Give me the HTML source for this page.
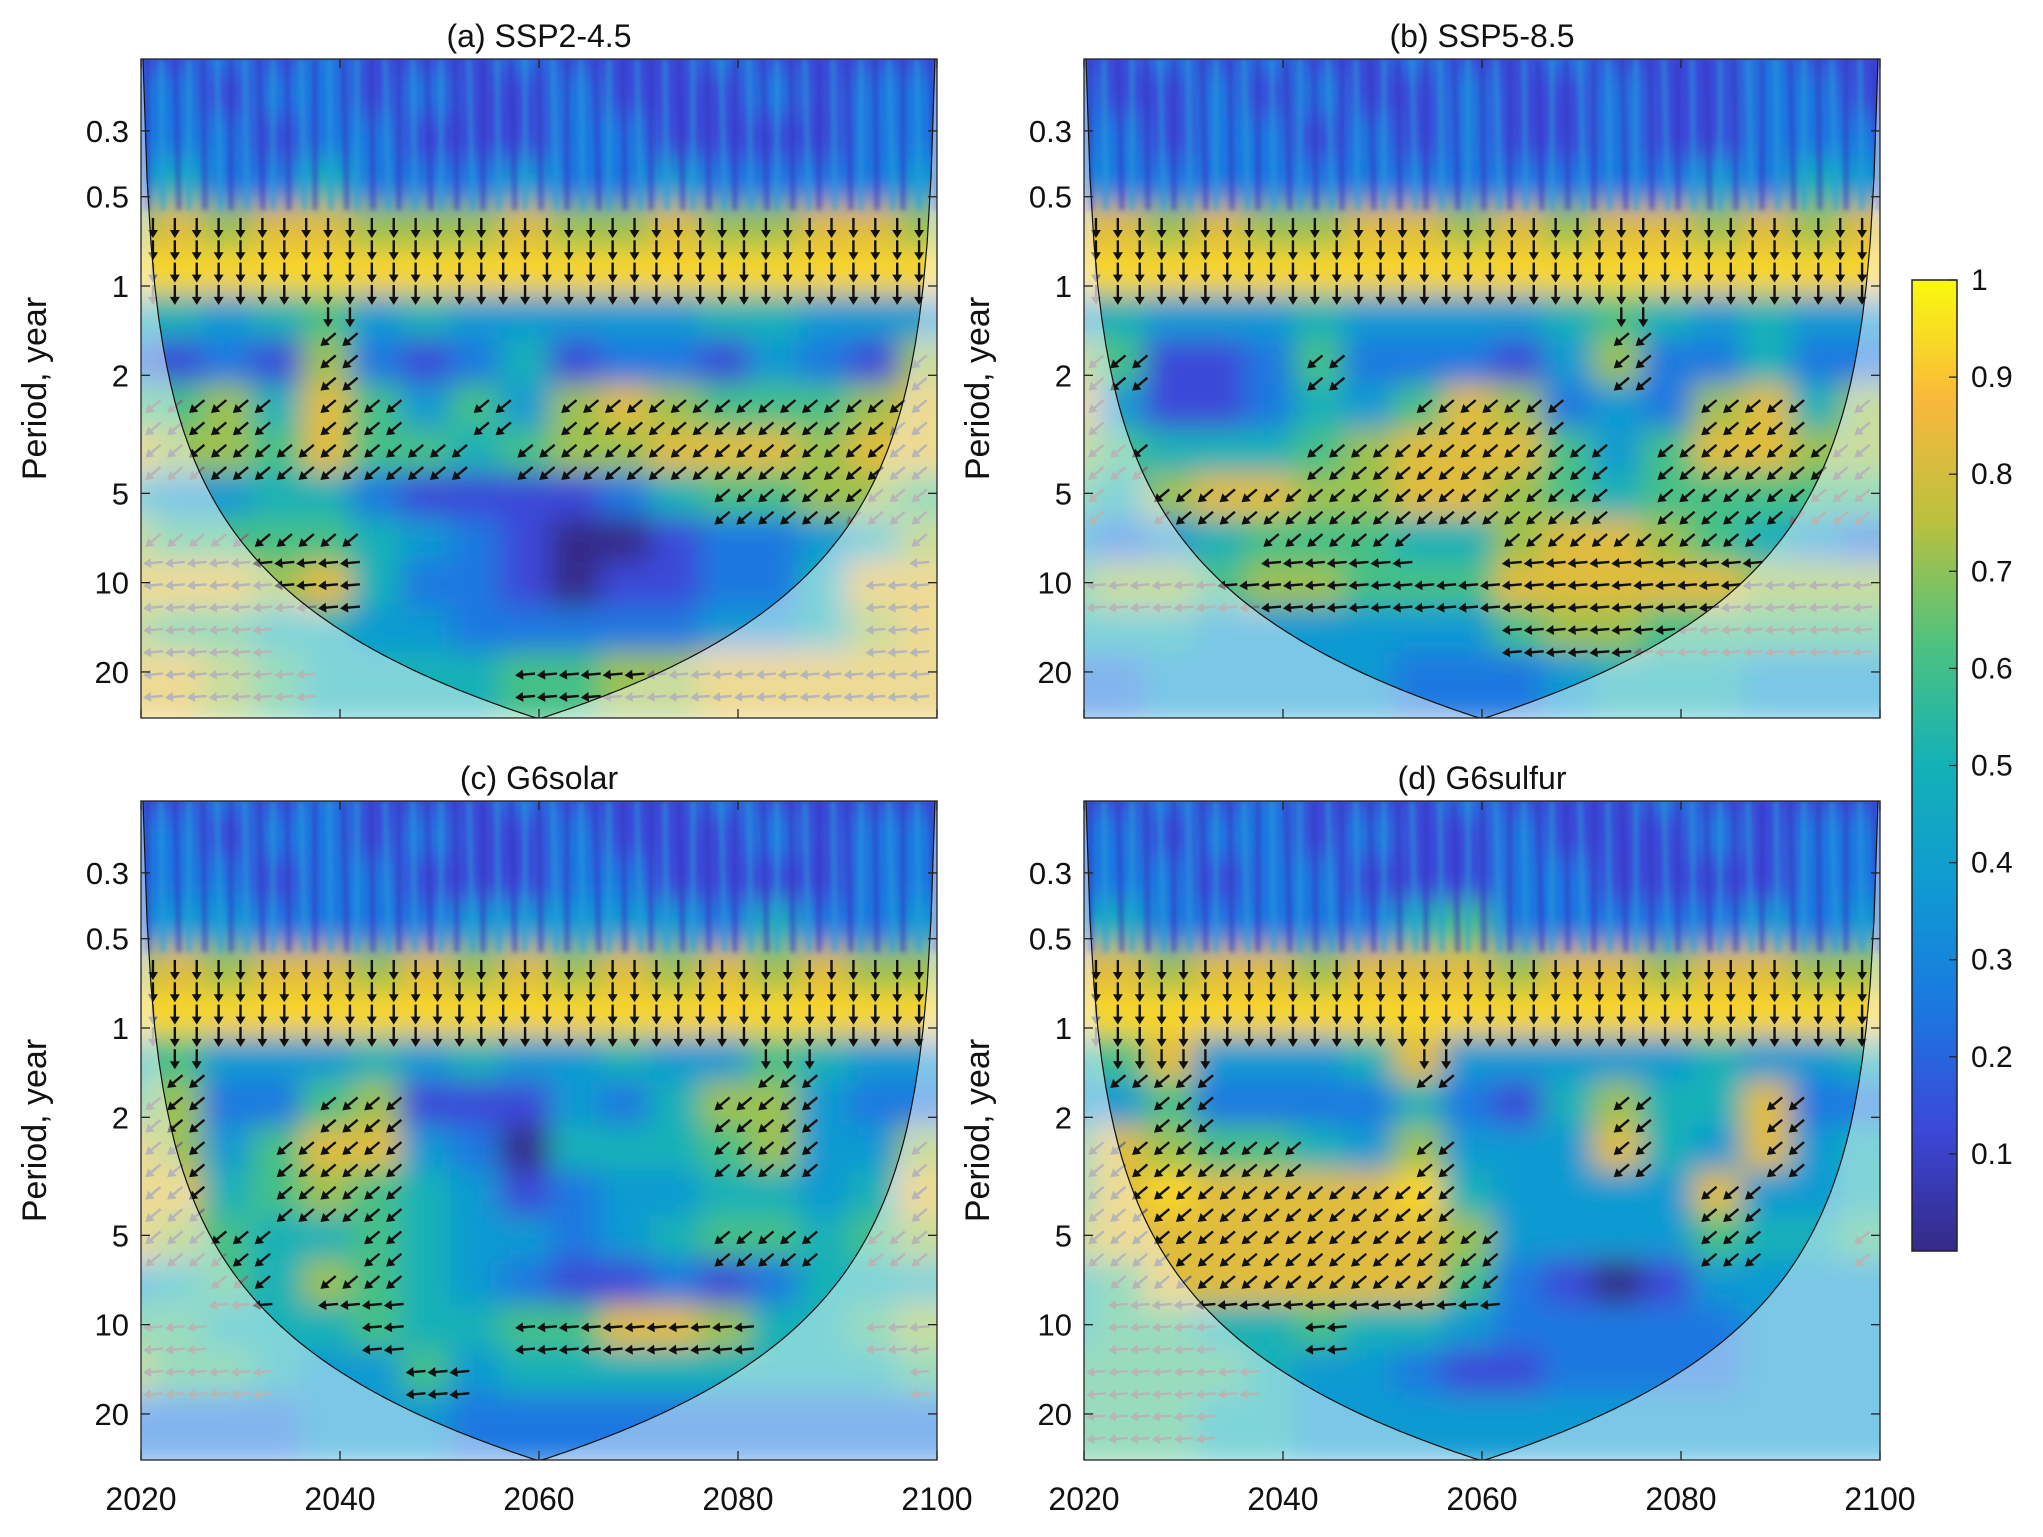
<!DOCTYPE html>
<html><head><meta charset="utf-8"><style>
html,body{margin:0;padding:0;background:#fff;}
svg text{font-family:"Liberation Sans",Arial,sans-serif;fill:#111;}
</style></head><body>
<svg id="chart" width="2043" height="1532" viewBox="0 0 2043 1532" xmlns="http://www.w3.org/2000/svg">
<defs>
<linearGradient id="parula" x1="0" y1="1" x2="0" y2="0">
<stop offset="0" stop-color="#352a87"/><stop offset="0.125" stop-color="#3b48d8"/>
<stop offset="0.25" stop-color="#1a78e0"/><stop offset="0.375" stop-color="#0f9ad2"/>
<stop offset="0.5" stop-color="#13b1b7"/><stop offset="0.625" stop-color="#4dc27f"/>
<stop offset="0.75" stop-color="#b9c13f"/><stop offset="0.875" stop-color="#f9b83c"/>
<stop offset="1" stop-color="#f9f90f"/>
</linearGradient>
<filter id="blur" x="-10%" y="-10%" width="120%" height="120%"><feGaussianBlur stdDeviation="14"/></filter>
<filter id="blur2"><feGaussianBlur stdDeviation="2.5"/></filter>
</defs>
<g id="panels"></g>
<g>
<rect x="1912" y="280" width="45" height="971" fill="url(#parula)" stroke="#222" stroke-width="1.5"/>
<g id="cbticks"></g>
</g>
</svg>
<script>
const years=[2020,2025,2030,2035,2040,2045,2050,2055,2060,2065,2070,2075,2080,2085,2090,2095,2100];
const rowsLog2=[-2.5,-2,-1.5,-1,-0.5,0,0.5,1,1.5,2,2.5,3,3.5,4,4.5];
const periodTicks=[0.3,0.5,1,2,5,10,20];
const yearTicks=[2020,2040,2060,2080,2100];
const cbTicks=[0.1,0.2,0.3,0.4,0.5,0.6,0.7,0.8,0.9,1];
const titles=["(a) SSP2-4.5","(b) SSP5-8.5","(c) G6solar","(d) G6sulfur"];
const cohA=["22323222322232222","33233232232223233","33323322233222233","35335333433433334","78788777877877887","99999999999999999","55456454444455444","32327323523324327","66758646478766678","87768665677888788","54455322223566776","76666543211233457","88878533212233588","76655443333344578","88765555667788888"];
const cohB=["22323223223222322","32232322322322332","33233232322322333","43333333333334354","88787788787887878","99999999999999999","45444544445654544","76223633324733533","84223546873437857","76555678886468877","65788778876566666","43456665578876543","67767766688888777","55544444467766666","33444443334555444"];
const cohC=["22323222322232222","33233232232223233","33323322233222233","34433334444435334","78788787878787877","99999999999999999","56444545445446544","67336722243577433","87468843155567447","88567654234455458","87655654434566567","45657654322323555","66555655668875567","76654464555555556","33334443333333333"];
const cohD=["22323222322232222","33233232232223233","33323322233222233","45333335633333434","88788788878878877","99999999999999999","56844458444445445","44633335325755833","68766547444854845","68988889544448445","78888888744446556","56888888632124444","56655655433333444","66665443223333444","66655444444444444"];
const cohs=[cohA,cohB,cohC,cohD];
const panelBoxes=[[141,59],[1084,59],[141,801],[1084,801]];
const W=796,H=659,OCT=89.3;
const stops=[[0,[53,42,135]],[0.125,[59,72,216]],[0.25,[26,120,224]],[0.375,[15,154,210]],[0.5,[19,177,183]],[0.625,[77,194,127]],[0.75,[185,193,63]],[0.875,[249,184,60]],[1,[249,249,15]]];
function color(v){v=v<0.5?0.5+(v-0.5)*1.25:0.5+(v-0.5)*1.08;v=Math.max(0,Math.min(1,v));for(let i=1;i<stops.length;i++){if(v<=stops[i][0]){const a=stops[i-1],b=stops[i],t=(v-a[0])/(b[0]-a[0]);const c=a[1].map((x,k)=>Math.round(x+(b[1][k]-x)*t));return `rgb(${c})`;}}return 'rgb(249,249,15)';}
const NS="http://www.w3.org/2000/svg";
function mk(tag,attrs,parent){const e=document.createElementNS(NS,tag);for(const k in attrs)e.setAttribute(k,attrs[k]);parent.appendChild(e);return e;}
const root=document.getElementById('panels');
cohs.forEach((coh,pi)=>{
  const [x0,y0]=panelBoxes[pi];
  const yOne=y0+227;
  const xs=yr=>x0+(yr-2020)/80*W;
  const ys=p=>yOne+Math.log2(p)*OCT;
  const yl=l=>yOne+l*OCT;
  const g=mk('g',{},root);
  
  
  const clip=mk('clipPath',{id:'clip'+pi},g);mk('rect',{x:x0,y:y0,width:W,height:H},clip);
  const hm=mk('g',{'clip-path':`url(#clip${pi})`},g);
  const cells=mk('g',{filter:'url(#blur)'},hm);
  
  
  rowsLog2.forEach((l,r)=>{
    years.forEach((yr,c)=>{
      const v=+coh[r][c]/10;
      const cx=xs(yr),cy=yl(l);
      const rc=mk('rect',{x:cx-W/32-14,y:cy-OCT/4-14,width:W/16+28,height:OCT/2+28,fill:color(v)},cells);
      
      
    });
  });
  const st=mk('g',{filter:'url(#blur2)',opacity:'0.6'},hm);
  for(let x=x0+6,i=0;x<x0+W;x+=14,i++){mk('line',{x1:x,y1:y0,x2:x+(i%3)*2,y2:yl(-0.85),stroke:(i%2?'#25a0dc':'#3636c0'),'stroke-width':5},st);}
  const ar=mk('g',{},hm);
  const coi=yr=>{const d=Math.max(0.01,Math.min(yr-2020,2100-yr));return 0.72*d;};
  for(let yr=2021.2;yr<2100;yr+=2.2){
    for(let l=-2.4;l<4.8;l+=0.25){
      const c=Math.round((yr-2020)/5),r=Math.round((l+2.5)/0.5);
      if(r<0||r>=rowsLog2.length)continue;
      const v=+coh[r][c];
      if(v<6)continue;
      if(l<-0.75)continue;
      const inside=Math.pow(2,l)<coi(yr);
      const ang=(l<0.4)?90:(l<2.9?140:175);
      const cx=xs(yr),cy=yl(l),L=10,rad=ang*Math.PI/180;
      const dx=Math.cos(rad)*L,dy=Math.sin(rad)*L;
      const col=inside?'#111':'#7a7a7a';
      const a=mk('g',{},ar);
      
      
      mk('line',{x1:cx-dx,y1:cy-dy,x2:cx+dx*0.4,y2:cy+dy*0.4,stroke:col,'stroke-width':2.4},a);
      const hx=cx+dx,hy=cy+dy,px=-Math.sin(rad)*5,py=Math.cos(rad)*5;
      mk('polygon',{points:`${hx},${hy} ${hx-dx*0.8+px},${hy-dy*0.8+py} ${hx-dx*0.8-px},${hy-dy*0.8-py}`,fill:col},a);
    }
  }
  let pts=[[x0,y0]];
  for(let yr=2020.2;yr<=2099.9;yr+=0.4){pts.push([xs(yr),Math.max(y0,Math.min(y0+H,ys(coi(yr))))]);}
  pts.push([xs(2099.9),Math.max(y0,ys(coi(2099.9)))]);
  pts.push([x0+W,y0]);
  const coiPath='M'+pts.map(p=>p[0].toFixed(1)+','+p[1].toFixed(1)).join(' L');
  const sh=mk('path',{d:`M${x0},${y0} L${x0+W},${y0} L${x0+W},${y0+H} L${x0},${y0+H} Z `+coiPath+' Z','fill-rule':'evenodd',fill:'#fff',opacity:'0.45'},hm);
  
  
  const cl=mk('path',{d:coiPath,fill:'none',stroke:'#111','stroke-width':1.2},hm);
  
  
  const fr=mk('rect',{x:x0,y:y0,width:W,height:H,fill:'none',stroke:'#222','stroke-width':1.3},g);
  
  
  const t=mk('text',{x:x0+W/2,y:y0-12,'text-anchor':'middle','font-size':32},g);t.textContent=titles[pi];
  
  
  periodTicks.forEach(p=>{const y=ys(p);
    mk('line',{x1:x0,y1:y,x2:x0+9,y2:y,stroke:'#222','stroke-width':1.3},g);
    mk('line',{x1:x0+W,y1:y,x2:x0+W-9,y2:y,stroke:'#222','stroke-width':1.3},g);
    const tl=mk('text',{x:x0-12,y:y+11,'text-anchor':'end','font-size':31},g);tl.textContent=String(p);
    
    
  });
  yearTicks.forEach(yr=>{const x=xs(yr);
    mk('line',{x1:x,y1:y0+H,x2:x,y2:y0+H-9,stroke:'#222','stroke-width':1.3},g);
    mk('line',{x1:x,y1:y0,x2:x,y2:y0+9,stroke:'#222','stroke-width':1.3},g);
    if(pi>=2){const tl=mk('text',{x:x,y:1510,'text-anchor':'middle','font-size':32},g);tl.textContent=String(yr);
      
      }
  });
  const yt=mk('text',{x:0,y:0,'text-anchor':'middle','font-size':34,transform:`translate(${x0-95},${y0+H/2}) rotate(-90)`},g);
  yt.textContent='Period, year';
  
  
});
const cbg=document.getElementById('cbticks');
cbTicks.forEach(v=>{const y=1251-v*971;
  mk('line',{x1:1957,y1:y,x2:1949,y2:y,stroke:'#222','stroke-width':1.3},cbg);
  const tl=mk('text',{x:1971,y:y+10,'font-size':30},cbg);tl.textContent=String(v);
  
  
});
</script>
</body></html>
